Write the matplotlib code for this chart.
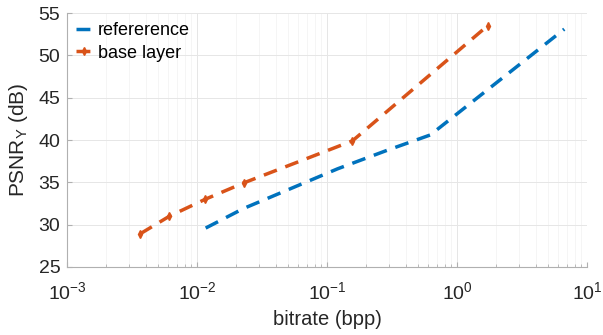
import matplotlib
matplotlib.use("Agg")
import matplotlib.pyplot as plt
import numpy as np

plt.rcParams['font.family'] = ['Liberation Sans', 'DejaVu Sans']

# data
ref_rate = [0.0116, 0.0226, 0.12, 0.29, 0.62, 6.65]
ref_psnr = [29.6, 31.9, 36.6, 38.8, 40.6, 53.1]
base_rate = [0.00362, 0.0061, 0.0115, 0.0229, 0.156, 1.71]
base_psnr = [28.9, 31.0, 33.0, 34.95, 39.9, 53.5]

fig = plt.figure(figsize=(6.03, 3.35), dpi=100)
ax = fig.add_axes([0.1116, 0.203, 0.8624, 0.758])

ax.plot(ref_rate, ref_psnr, '--', color='#0072BD', lw=2.5, dashes=(4, 2.6), label='refererence')
ax.plot(base_rate, base_psnr, '--', color='#D95319', lw=2.5, dashes=(4, 2.6),
        marker='d', ms=4, label='base layer')

ax.set_xscale('log')
ax.set_xlim(1e-3, 1e1)
ax.set_ylim(25, 55)
ax.set_yticks(np.arange(25, 56, 5))
ax.grid(True, which='major', color='#e6e6e6', lw=0.7)
ax.grid(True, which='minor', color='#f2f2f2', lw=0.5)
ax.set_axisbelow(True)

for s in ['top', 'right']:
    ax.spines[s].set_visible(False)
for s in ['left', 'bottom']:
    ax.spines[s].set_color('#b0b0b0')
ax.tick_params(which='both', direction='in', colors='#b0b0b0', labelcolor='#262626', labelsize=14)
ax.tick_params(axis='x', which='major', pad=10)
ax.tick_params(axis='y', which='major', pad=5)
ax.tick_params(which='minor', length=2)

ax.set_xlabel('bitrate (bpp)', fontsize=14.5, color='#262626', labelpad=5)
ax.set_ylabel('PSNR$_\\mathregular{Y}$ (dB)', fontsize=15, color='#262626', labelpad=6)

ax.legend(loc='upper left', frameon=False, fontsize=13, handlelength=0.8,
          handletextpad=0.4, borderaxespad=0.1, labelspacing=0.3)

fig.savefig('out.png', dpi=100)
